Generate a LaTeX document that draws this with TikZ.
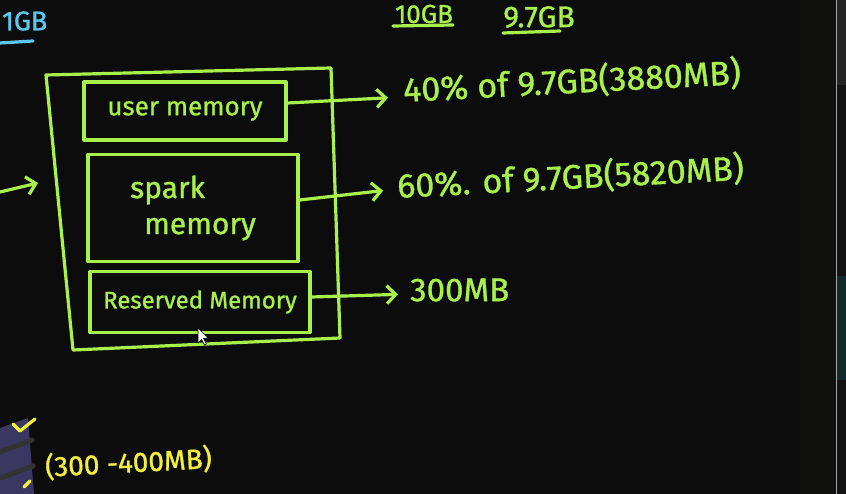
\documentclass[tikz,border=0pt]{standalone}
\usepackage{fontspec}
\setmainfont{Fira Sans}[FakeBold=1.0]
\usetikzlibrary{arrows.meta}
\definecolor{bg}{HTML}{0C0C0C}
\definecolor{chalk}{HTML}{A8F04C}
\definecolor{sky}{HTML}{5CC8F0}
\definecolor{ylw}{HTML}{F2F03C}
\definecolor{panel}{HTML}{111110}
\definecolor{paneltop}{HTML}{262626}
\definecolor{panelmid}{HTML}{141414}
\definecolor{teal}{HTML}{122A2A}
\definecolor{purp}{HTML}{3A3862}
\newcommand{\fsz}[1]{\fontsize{#1}{#1}\selectfont}
\begin{document}
\begin{tikzpicture}[x=1pt,y=-1pt,line cap=round,line join=round,
  pen/.style={draw=chalk,line width=3.2pt},
  membox/.style={pen,text=chalk,inner sep=0pt},
  hand/.style={text=chalk,inner sep=0pt,anchor=west},
  arr/.style={pen,-{Straight Barb[length=9pt,width=18pt,line width=3.2pt]}}]
\useasboundingbox (0,0) rectangle (846,494);
\clip (0,0) rectangle (846,494);
\fill[bg] (0,0) rectangle (846,494);
% right-hand panel
\fill[panel] (800,0) rectangle (836,494);
\fill[paneltop] (837,0) rectangle (846,85);
\fill[panelmid] (837,85) rectangle (846,276);
\fill[teal] (837,276) rectangle (846,380);
\fill[panelmid] (837,380) rectangle (846,494);
\draw[draw=gray!70,line width=0.8pt] (836.5,0) -- (836.5,494);
% top labels
\node[text=sky,font=\fsz{27},inner sep=0pt,anchor=west] (gb) at (2,21) {1GB};
\draw[draw=sky,line width=3.2pt] (0,43) -- (33,41);
\node[text=chalk,font=\fsz{26},inner sep=0pt] (ten) at (424,14) {10GB};
\draw[pen] (393,26) -- (453,25);
\node[text=chalk,font=\fsz{30},inner sep=0pt] (nine) at (539,17) {9.7GB};
\draw[pen] (503,33) -- (560,31);
% outer box
\draw[pen] (46,75) -- (331,68) -- (340,338) -- (73,350) -- cycle;
% inner boxes
\node[membox,font=\fsz{26},minimum width=202pt,minimum height=58pt] (user) at (185,111) {user memory};
\node[membox,font=\fsz{30},minimum width=210pt,minimum height=107pt,align=left] (spark) at (193,208) {spark\\[6pt]\hspace{14pt}memory};
\node[membox,font=\fsz{24},minimum width=220pt,minimum height=61pt] (res) at (200,302) {Reserved Memory};
% right texts
\node[hand,font=\fsz{34},rotate=3] (t40) at (403,90) {40\% of 9.7GB(3880MB)};
\node[hand,font=\fsz{34},rotate=3] (t60) at (397,186) {60\%. of 9.7GB(5820MB)};
\node[hand,font=\fsz{33}] (t300) at (410,290) {300MB};
\draw[arr,shorten >=15pt] ([yshift=8pt]user.east) -- ([yshift=-7pt]t40.west);
\draw[arr,shorten >=14pt] ([yshift=8pt]spark.east) -- ([yshift=-3pt]t60.west);
\draw[arr,shorten >=12pt] ([yshift=5pt]res.east) -- ([yshift=-4pt]t300.west);
% left incoming arrow
\coordinate (lin) at (0,192);
\coordinate (ltip) at (38,183);
\draw[arr] (lin) -- (ltip);
% bottom-left fragment
\fill[purp] (0,428) -- (28,418) -- (34,494) -- (0,494) -- cycle;
\draw[black!80,line width=5pt] (0,452) -- (32,440);
\draw[black!80,line width=5pt] (0,478) -- (33,466);
\draw[draw=ylw,line width=3.2pt] (13,424) -- (20,431) -- (35,419);
\draw[draw=ylw,line width=3.2pt] (30,481) -- (24,487);
\node[text=ylw,font=\fsz{28},inner sep=0pt,anchor=west,rotate=3] (range) at (45,467) {(300 -400MB)};
% cursor
\fill[white,draw=black,line width=0.6pt] (198,328) -- (198,343) -- (201.5,339.5) -- (204.5,345) -- (206.5,344) -- (203.5,338.5) -- (208,338) -- cycle;
\end{tikzpicture}
\end{document}
